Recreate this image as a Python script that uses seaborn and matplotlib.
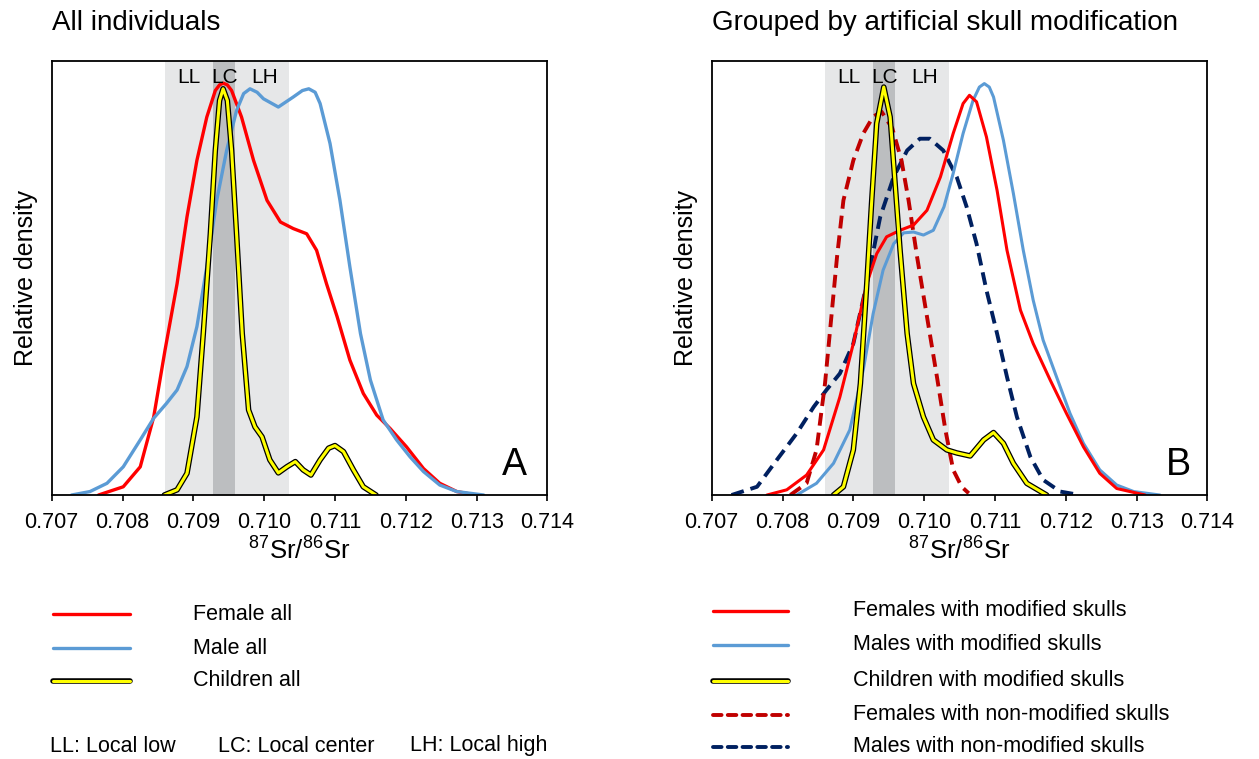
import matplotlib
matplotlib.use("Agg")
import matplotlib.pyplot as plt
import matplotlib.patheffects as pe
from matplotlib.lines import Line2D
import seaborn as sns

sns.set_style("white")
plt.rcParams['font.family'] = ['Liberation Sans', 'DejaVu Sans']
plt.rcParams['mathtext.fontset'] = 'custom'
plt.rcParams['mathtext.rm'] = 'Liberation Sans'
plt.rcParams['text.color'] = 'black'
plt.rcParams['axes.labelcolor'] = 'black'
plt.rcParams['xtick.color'] = 'black'
plt.rcParams['ytick.color'] = 'black'

# --- local range bands ---
band_low, band_high = 0.7086, 0.71035
center_low, center_high = 0.70928, 0.70959
xticks = [0.707, 0.708, 0.709, 0.710, 0.711, 0.712, 0.713, 0.714]

# --- Panel A: all individuals (relative density) ---
female_all_x = [0.70766, 0.70801, 0.70825, 0.70844, 0.70860, 0.70877, 0.70891, 0.70905, 0.70919, 0.70931,
                0.70937, 0.70942, 0.70948, 0.70954, 0.70968, 0.70985, 0.71004, 0.71023, 0.71041, 0.71060,
                0.71074, 0.71088, 0.71103, 0.71121, 0.71140, 0.71159, 0.71178, 0.71201, 0.71225, 0.71248,
                0.71272, 0.71299]
female_all_y = [0.0, 0.019, 0.065, 0.180, 0.334, 0.487, 0.641, 0.771, 0.871, 0.932,
                0.945, 0.949, 0.945, 0.932, 0.871, 0.771, 0.679, 0.629, 0.614, 0.602,
                0.564, 0.487, 0.411, 0.311, 0.234, 0.184, 0.153, 0.111, 0.061, 0.027,
                0.008, 0.0]

male_all_x = [0.70728, 0.70754, 0.70778, 0.70801, 0.70825, 0.70844, 0.70862, 0.70877, 0.70891, 0.70905,
              0.70919, 0.70933, 0.70947, 0.70961, 0.70971, 0.70980, 0.70990, 0.70999, 0.71020, 0.71041,
              0.71054, 0.71063, 0.71072, 0.71079, 0.71093, 0.71107, 0.71121, 0.71136, 0.71150, 0.71168,
              0.71187, 0.71206, 0.71225, 0.71248, 0.71272, 0.71310]
male_all_y = [0.0, 0.008, 0.027, 0.065, 0.127, 0.177, 0.211, 0.242, 0.296, 0.388,
              0.526, 0.679, 0.794, 0.886, 0.925, 0.936, 0.928, 0.913, 0.894, 0.917,
              0.932, 0.936, 0.928, 0.902, 0.810, 0.679, 0.526, 0.372, 0.265, 0.173,
              0.127, 0.088, 0.054, 0.023, 0.008, 0.0]

children_all_x = [0.70859, 0.70877, 0.70891, 0.70905, 0.70914, 0.70924, 0.70931, 0.70937, 0.70942, 0.70948,
                  0.70954, 0.70961, 0.70969, 0.70978, 0.70987, 0.70997, 0.71008, 0.71020, 0.71032, 0.71044,
                  0.71055, 0.71066, 0.71079, 0.71091, 0.71100, 0.71112, 0.71126, 0.71140, 0.71158]
children_all_y = [0.0, 0.012, 0.050, 0.180, 0.372, 0.602, 0.794, 0.909, 0.936, 0.909,
                  0.794, 0.602, 0.372, 0.196, 0.157, 0.134, 0.081, 0.051, 0.065, 0.077,
                  0.058, 0.046, 0.081, 0.108, 0.114, 0.100, 0.058, 0.019, 0.0]

# --- Panel B: grouped by artificial skull modification ---
female_mod_x = [0.70778, 0.70806, 0.70834, 0.70858, 0.70881, 0.70900, 0.70919, 0.70933, 0.70947, 0.70966,
                0.70985, 0.71004, 0.71023, 0.71041, 0.71055, 0.71064, 0.71074, 0.71088, 0.71103, 0.71117,
                0.71136, 0.71154, 0.71178, 0.71201, 0.71225, 0.71248, 0.71272, 0.71312]
female_mod_y = [0.0, 0.012, 0.046, 0.104, 0.226, 0.349, 0.487, 0.556, 0.595, 0.610,
                0.622, 0.656, 0.733, 0.833, 0.902, 0.921, 0.906, 0.825, 0.702, 0.564,
                0.426, 0.349, 0.265, 0.188, 0.111, 0.050, 0.015, 0.0]

male_mod_x = [0.70820, 0.70848, 0.70872, 0.70895, 0.70914, 0.70928, 0.70942, 0.70957, 0.70971, 0.70985,
              0.70999, 0.71013, 0.71028, 0.71041, 0.71055, 0.71069, 0.71078, 0.71085, 0.71092, 0.71098,
              0.71112, 0.71126, 0.71140, 0.71154, 0.71168, 0.71187, 0.71206, 0.71225, 0.71248, 0.71272,
              0.71296, 0.71333]
male_mod_y = [0.0, 0.027, 0.073, 0.150, 0.288, 0.418, 0.518, 0.579, 0.604, 0.606,
              0.599, 0.610, 0.664, 0.741, 0.833, 0.909, 0.940, 0.948, 0.940, 0.917,
              0.817, 0.695, 0.564, 0.449, 0.357, 0.272, 0.188, 0.119, 0.058, 0.023,
              0.008, 0.0]

children_mod_x = [0.70872, 0.70886, 0.70900, 0.70910, 0.70919, 0.70926, 0.70933, 0.70943, 0.70952, 0.70959,
                  0.70966, 0.70976, 0.70985, 0.70999, 0.71013, 0.71032, 0.71046, 0.71065, 0.71084, 0.71098,
                  0.71112, 0.71126, 0.71145, 0.71173]
children_mod_y = [0.0, 0.019, 0.104, 0.257, 0.487, 0.679, 0.856, 0.940, 0.871, 0.718,
                  0.564, 0.372, 0.257, 0.180, 0.127, 0.104, 0.097, 0.090, 0.127, 0.144,
                  0.119, 0.073, 0.027, 0.0]

female_nonmod_x = [0.70811, 0.70834, 0.70848, 0.70860, 0.70869, 0.70877, 0.70886, 0.70900, 0.70914, 0.70928,
                   0.70940, 0.70955, 0.70968, 0.70978, 0.70990, 0.71004, 0.71018, 0.71030, 0.71041, 0.71053,
                   0.71063]
female_nonmod_y = [0.0, 0.027, 0.104, 0.257, 0.411, 0.549, 0.679, 0.771, 0.833, 0.872,
                   0.883, 0.845, 0.771, 0.679, 0.549, 0.411, 0.273, 0.150, 0.058, 0.019,
                   0.004]

male_nonmod_x = [0.70728, 0.70764, 0.70792, 0.70820, 0.70844, 0.70862, 0.70881, 0.70900, 0.70919, 0.70938,
                 0.70957, 0.70976, 0.70994, 0.71008, 0.71027, 0.71046, 0.71060, 0.71074, 0.71088, 0.71103,
                 0.71117, 0.71131, 0.71150, 0.71168, 0.71192, 0.71220]
male_nonmod_y = [0.0, 0.019, 0.081, 0.142, 0.203, 0.242, 0.280, 0.349, 0.487, 0.641,
                 0.733, 0.794, 0.821, 0.821, 0.794, 0.733, 0.664, 0.579, 0.472, 0.372,
                 0.272, 0.180, 0.088, 0.035, 0.008, 0.0]

RED, BLUE, YELLOW, DRED, NAVY = '#ff0000', '#5b9bd5', '#ffff00', '#c00000', '#002060'
yellow_fx = [pe.Stroke(linewidth=4.0, foreground='black'), pe.Normal()]
DASH = (0, (3.3, 1.8))

fig = plt.figure(figsize=(12.59, 7.59), dpi=100)
axA = fig.add_axes([0.0411, 0.3478, 0.3937, 0.5718])
axB = fig.add_axes([0.5653, 0.3478, 0.3937, 0.5718])


def style_axis(ax, title, letter, letter_x):
    ax.axvspan(band_low, band_high, color='#e6e7e8', lw=0, zorder=0)
    ax.axvspan(center_low, center_high, color='#bcbec0', lw=0, zorder=0)
    ax.set_xlim(0.707, 0.714)
    ax.set_ylim(0, 1)
    ax.set_xticks(xticks)
    ax.set_xticklabels([f'{t:.3f}' for t in xticks], fontsize=15.5)
    ax.set_yticks([])
    ax.tick_params(axis='x', direction='out', length=4, width=1.2, bottom=True, pad=8)
    for s in ax.spines.values():
        s.set_color('black')
        s.set_linewidth(1.3)
    ax.set_ylabel('Relative density', fontsize=18, labelpad=10)
    ax.set_xlabel(r'$^{87}$Sr/$^{86}$Sr', fontsize=18.5, labelpad=2)
    ax.set_title(title, loc='left', fontsize=20, pad=22)
    ax.text(0.70894, 0.985, 'LL', fontsize=15, va='top', ha='center')
    ax.text(0.70944, 0.985, 'LC', fontsize=15, va='top', ha='center')
    ax.text(0.71000, 0.985, 'LH', fontsize=15, va='top', ha='center')
    ax.text(letter_x, 0.046, letter, fontsize=27, ha='center', va='baseline')


style_axis(axA, 'All individuals', 'A', 0.71353)
sns.lineplot(x=female_all_x, y=female_all_y, ax=axA, color=RED, lw=2.4, sort=False)
sns.lineplot(x=male_all_x, y=male_all_y, ax=axA, color=BLUE, lw=2.4, sort=False)
sns.lineplot(x=children_all_x, y=children_all_y, ax=axA, color=YELLOW, lw=2.2, sort=False,
             path_effects=yellow_fx)

style_axis(axB, 'Grouped by artificial skull modification', 'B', 0.71359)
sns.lineplot(x=male_nonmod_x, y=male_nonmod_y, ax=axB, color=NAVY, lw=2.8, sort=False,
             linestyle=DASH)
sns.lineplot(x=female_nonmod_x, y=female_nonmod_y, ax=axB, color=DRED, lw=2.8, sort=False,
             linestyle=DASH)
sns.lineplot(x=male_mod_x, y=male_mod_y, ax=axB, color=BLUE, lw=2.2, sort=False)
sns.lineplot(x=female_mod_x, y=female_mod_y, ax=axB, color=RED, lw=2.2, sort=False)
sns.lineplot(x=children_mod_x, y=children_mod_y, ax=axB, color=YELLOW, lw=2.2, sort=False,
             path_effects=yellow_fx)

# --- legends drawn below the panels ---
legend_A = [('Female all', RED, '-'), ('Male all', BLUE, '-'), ('Children all', YELLOW, '-')]
legend_B = [('Females with modified skulls', RED, '-'),
            ('Males with modified skulls', BLUE, '-'),
            ('Children with modified skulls', YELLOW, '-'),
            ('Females with non-modified skulls', DRED, '--'),
            ('Males with non-modified skulls', NAVY, '--')]


def draw_legend(items, x0, x1, xt, ys):
    for (label, color, ls), y in zip(items, ys):
        yf = 1 - y / 759
        line = Line2D([x0 / 1259, x1 / 1259], [yf, yf], transform=fig.transFigure,
                      color=color, lw=2.8 if ls == '--' else 2.4,
                      linestyle=(0, (2.2, 1.6)) if ls == '--' else '-',
                      solid_capstyle='round', dash_capstyle='round')
        if color == YELLOW:
            line.set_linewidth(2.2)
            line.set_path_effects(yellow_fx)
        fig.add_artist(line)
        fig.text(xt / 1259, yf, label, fontsize=15.5, va='center', ha='left')


draw_legend(legend_A, 53, 130, 193, [614, 648, 681])
draw_legend(legend_B, 713, 788, 853, [611, 645, 681, 715, 747])

fig.text(50 / 1259, 1 - 746 / 759, 'LL: Local low', fontsize=15.5, va='center')
fig.text(218 / 1259, 1 - 746 / 759, 'LC: Local center', fontsize=15.5, va='center')
fig.text(410 / 1259, 1 - 746 / 759, 'LH: Local high', fontsize=15.5, va='center')

fig.savefig('out.png', dpi=100)
